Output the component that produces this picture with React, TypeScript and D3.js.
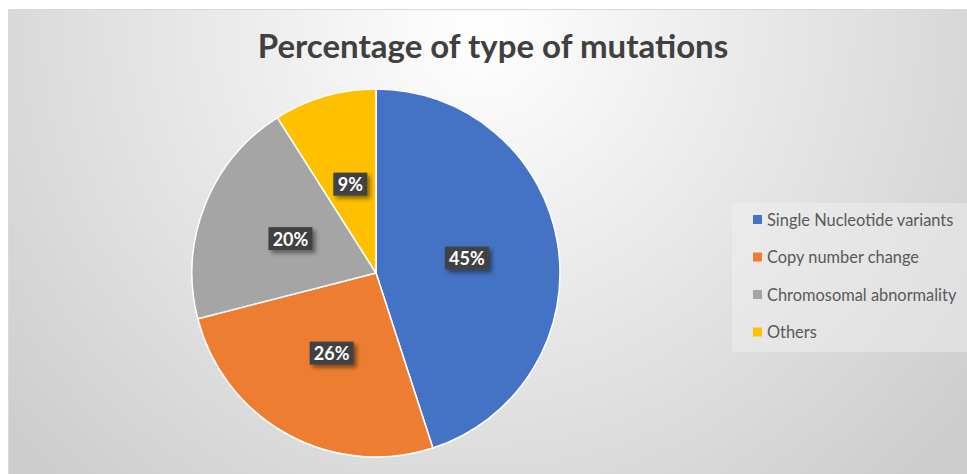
import { useEffect, useRef } from 'react';
import * as d3 from 'd3';

const categories = ['Single Nucleotide variants', 'Copy number change', 'Chromosomal abnormality', 'Others'];
const values = [45, 26, 20, 9];
const colors = ['#4472C4', '#ED7D31', '#A5A5A5', '#FFC000'];
const title = 'Percentage of type of mutations';

const App = () => {
  const ref = useRef<SVGSVGElement>(null);

  useEffect(() => {
    const width = 967;
    const height = 474;
    const cx = 376;
    const cy = 273;
    const radius = 184;

    const svg = d3.select(ref.current);
    svg.selectAll('*').remove();
    svg.attr('width', width).attr('height', height).attr('viewBox', [0, 0, width, height]);

    const defs = svg.append('defs');
    const grad = defs.append('radialGradient')
      .attr('id', 'bg')
      .attr('gradientUnits', 'userSpaceOnUse')
      .attr('cx', 480).attr('cy', 30).attr('r', 620);
    grad.append('stop').attr('offset', '0%').attr('stop-color', '#ffffff');
    grad.append('stop').attr('offset', '100%').attr('stop-color', '#cdcdcd');

    const pat = defs.append('pattern')
      .attr('id', 'dots')
      .attr('patternUnits', 'userSpaceOnUse')
      .attr('width', 4).attr('height', 4);
    pat.append('rect').attr('width', 4).attr('height', 4).attr('fill', '#404040');
    pat.append('circle').attr('cx', 1).attr('cy', 1).attr('r', 0.8).attr('fill', '#4d4d4d');

    const shadow = defs.append('filter').attr('id', 'shadow')
      .attr('x', '-30%').attr('y', '-30%').attr('width', '160%').attr('height', '160%');
    shadow.append('feDropShadow')
      .attr('dx', 3).attr('dy', 3).attr('stdDeviation', 2)
      .attr('flood-color', '#000').attr('flood-opacity', 0.45);

    svg.append('rect')
      .attr('x', 8.5).attr('y', 9.5)
      .attr('width', width).attr('height', height)
      .attr('fill', 'url(#bg)')
      .attr('stroke', '#d9d9d9');

    svg.append('text')
      .attr('x', 493).attr('y', 58)
      .attr('text-anchor', 'middle')
      .attr('font-family', 'Lato, "Open Sans", sans-serif')
      .attr('font-weight', 'bold')
      .attr('font-size', 33)
      .attr('fill', '#404040')
      .text(title);

    const pie = d3.pie<number>().sort(null).value(d => d);
    const arcs = pie(values);
    const arc = d3.arc<d3.PieArcDatum<number>>().innerRadius(0).outerRadius(radius);
    const labelArc = d3.arc<d3.PieArcDatum<number>>().innerRadius(radius * 0.5).outerRadius(radius * 0.5);

    const g = svg.append('g').attr('transform', `translate(${cx},${cy})`);
    g.selectAll('path.slice')
      .data(arcs)
      .join('path')
      .attr('class', 'slice')
      .attr('d', arc)
      .attr('fill', (d, i) => colors[i])
      .attr('stroke', '#ffffff')
      .attr('stroke-width', 1.5);

    const total = d3.sum(values);
    const labels = g.selectAll('g.lbl')
      .data(arcs)
      .join('g')
      .attr('class', 'lbl')
      .attr('transform', d => {
        const [x, y] = labelArc.centroid(d);
        return `translate(${x},${y})`;
      });
    labels.append('rect')
      .attr('x', d => (d.data < 10 ? -17 : -22))
      .attr('y', -12)
      .attr('width', d => (d.data < 10 ? 34 : 44))
      .attr('height', 23)
      .attr('fill', 'url(#dots)')
      .attr('filter', 'url(#shadow)');
    labels.append('text')
      .attr('text-anchor', 'middle')
      .attr('y', 6.5)
      .attr('font-family', 'Lato, "Open Sans", sans-serif')
      .attr('font-weight', 'bold')
      .attr('font-size', 18)
      .attr('fill', '#ffffff')
      .text(d => `${Math.round((d.data / total) * 100)}%`);

    // legend
    const legend = svg.append('g');
    legend.append('rect')
      .attr('x', 732).attr('y', 203)
      .attr('width', 240).attr('height', 149)
      .attr('fill', '#f2f2f2').attr('fill-opacity', 0.45);
    const item = legend.selectAll('g.item')
      .data(categories)
      .join('g')
      .attr('class', 'item')
      .attr('transform', (d, i) => `translate(753,${220 + i * 37.5})`);
    item.append('rect')
      .attr('x', 0).attr('y', -5)
      .attr('width', 9).attr('height', 9)
      .attr('fill', (d, i) => colors[i]);
    item.append('text')
      .attr('x', 14).attr('y', 5.5)
      .attr('font-family', 'Lato, "Open Sans", sans-serif')
      .attr('font-size', 16.4)
      .attr('fill', '#595959')
      .text(d => d);
  }, []);

  return <svg ref={ref} style={{ position: 'absolute', left: 0, top: 0, display: 'block' }} />;
};

export default App;
